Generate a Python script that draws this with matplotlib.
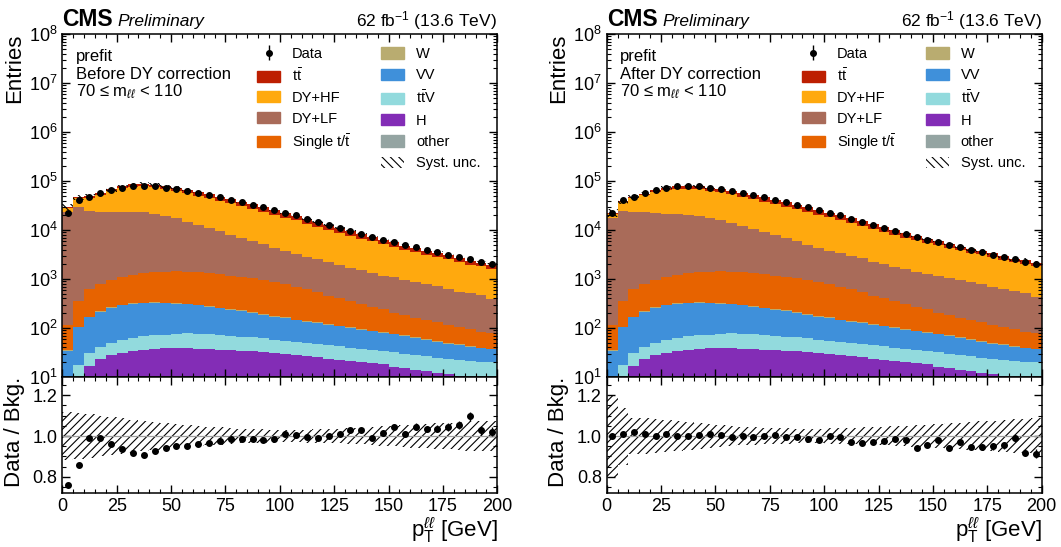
import numpy as np
import matplotlib
matplotlib.use("Agg")
import matplotlib.pyplot as plt
from matplotlib.patches import Patch
from matplotlib.ticker import MultipleLocator, LogLocator, FormatStrFormatter, NullFormatter

plt.rcParams['font.family'] = ['Liberation Sans', 'DejaVu Sans']
plt.rcParams['mathtext.fontset'] = 'custom'
plt.rcParams['mathtext.rm'] = 'Liberation Sans'
plt.rcParams['mathtext.it'] = 'Liberation Sans:italic'
plt.rcParams['mathtext.bf'] = 'Liberation Sans:bold'
plt.rcParams['hatch.linewidth'] = 0.8

# 40 bins of 5 GeV in pT(ll)
edges = np.linspace(0, 200, 41)

data = [22600, 40300, 47900, 56000, 64500, 73100, 77900, 79000, 77900, 73100,
        69800, 63500, 57800, 52200, 46800, 41900, 37000, 32900, 28800, 25200,
        22400, 19800, 16800, 14550, 12650, 11070, 9690, 8410, 7190, 6350,
        5820, 4860, 4430, 3870, 3550, 3160, 2770, 2520, 2220, 1980]

ttbar = [1190, 2340, 2900, 3960, 5380, 7010, 8500, 9560, 10110, 10110,
         10290, 10020, 9600, 9190, 8620, 7640, 7140, 6330, 5880, 5120,
         4440, 3930, 3380, 2940, 2530, 2190, 1790, 1550, 1380, 1130,
         1000, 870, 720, 640, 580, 520, 420, 370, 350, 310]

dyhf_before = [4840, 15060, 21080, 28990, 38580, 47620, 52790, 54410, 52890, 48340,
               45880, 41910, 37680, 33920, 29900, 26760, 23560, 21080, 18430, 16100,
               14050, 12440, 10680, 9170, 7930, 6830, 5990, 5120, 4560, 3960,
               3480, 2970, 2650, 2320, 2140, 1890, 1660, 1420, 1340, 1240]
dylf_before = [23550, 29100, 23790, 22890, 22330, 22180, 22450, 21640, 19850, 17910,
               15870, 13430, 11370, 9600, 8140, 6880, 5790, 4890, 4130, 3480,
               2950, 2600, 2240, 2070, 1730, 1530, 1300, 1200, 1060, 930,
               880, 790, 710, 630, 580, 510, 450, 415, 390, 315]

dyhf_after = [3630, 12680, 20430, 28320, 36840, 43950, 47830, 48750, 47920, 44520,
              42990, 39600, 35980, 32600, 29030, 26120, 23160, 20870, 18300, 16210,
              14230, 12660, 10990, 9480, 8230, 7140, 6310, 5450, 4870, 4260,
              3770, 3250, 2900, 2590, 2400, 2125, 1880, 1610, 1540, 1420]
dylf_after = [17670, 24500, 23050, 22360, 21330, 20470, 20340, 19380, 17980, 16500,
              14870, 12690, 10860, 9230, 7900, 6715, 5690, 4840, 4100, 3500,
              2990, 2650, 2300, 2135, 1795, 1600, 1365, 1270, 1130, 1000,
              950, 860, 775, 705, 645, 575, 510, 470, 445, 360]

single_t = [80, 255, 444, 556, 699, 815, 899, 974, 1033, 1081,
            1112, 1097, 1067, 1047, 984, 923, 886, 819, 760, 707,
            615, 539, 475, 404, 338, 291, 253, 213, 179, 158,
            127, 113, 98, 86, 76, 65, 56, 51, 44.5, 39.5]
w_jets = [1, 3, 6, 8, 10, 11, 12, 12, 12, 12, 12, 11, 11, 10, 9, 9, 8, 8, 7, 6,
          6, 5, 5, 5, 4, 4, 4, 3, 3, 3, 3, 2, 2, 2, 2, 2, 2, 1, 1, 1]
vv = [26.5, 85.4, 134, 173, 210, 233, 251, 251, 252, 246,
      232, 226, 215, 194, 180, 167, 156, 141, 126, 112,
      103, 90, 85, 78, 70, 66, 58.8, 55.3, 49.9, 45.7,
      42.5, 38.8, 34.5, 31.4, 27.8, 24.9, 23.1, 20.7, 18.3, 17.1]
ttv = [2, 9.6, 14.1, 18.6, 22.7, 25.9, 28.1, 31.5, 33, 34.6,
       37.8, 39.5, 37.5, 37.1, 35.9, 34.3, 31.5, 30.5, 29.2, 26.4,
       25.6, 24.9, 23.4, 22.7, 21.3, 20, 18.5, 17.3, 16.6, 15.8,
       15.4, 14.9, 14, 13.1, 12.6, 11.5, 11.4, 11.4, 11.2, 10.5]
higgs = [2, 3, 11.8, 19, 23.5, 27, 30.5, 32.1, 33.9, 34.5,
         34.8, 34.3, 33.9, 33.2, 32.1, 31.5, 30.5, 30, 28.4, 27.4,
         25.5, 23.7, 22.8, 21.2, 19.7, 18.2, 17.2, 15.9, 15, 14.1,
         12.3, 10, 9.1, 8.3, 7.2, 5.5, 4.5, 2.5, 1, 0.5]
other = [4, 5, 5, 4, 4, 4, 4, 4, 4, 4, 4, 4, 4, 4, 4, 4, 4, 4, 4, 4,
         4, 4, 4, 4, 4, 4, 4, 4, 4, 4, 4, 5, 5, 5, 5, 6, 6, 7, 8, 9]

ratio_before = [0.761, 0.860, 0.990, 0.989, 0.959, 0.938, 0.917, 0.909, 0.925, 0.940,
                0.950, 0.951, 0.963, 0.966, 0.977, 0.987, 0.984, 0.987, 0.980, 0.985,
                1.008, 1.007, 0.993, 0.989, 1.000, 1.011, 1.028, 1.029, 0.990, 1.015,
                1.046, 1.010, 1.046, 1.034, 1.036, 1.044, 1.055, 1.096, 1.028, 1.021]
ratio_after = [1.000, 1.010, 1.020, 1.010, 1.000, 1.008, 1.000, 1.000, 1.006, 1.008,
               1.003, 0.997, 1.000, 0.997, 1.000, 1.006, 0.997, 0.995, 0.985, 0.980,
               0.998, 0.993, 0.972, 0.964, 0.972, 0.977, 0.987, 0.980, 0.940, 0.958,
               0.982, 0.940, 0.972, 0.948, 0.946, 0.950, 0.954, 0.989, 0.919, 0.914]

unc_before = [0.120, 0.115, 0.108, 0.100, 0.093, 0.087, 0.081, 0.076, 0.070, 0.065,
              0.060, 0.055, 0.050, 0.046, 0.042, 0.039, 0.036, 0.034, 0.033, 0.032,
              0.031, 0.031, 0.032, 0.033, 0.034, 0.036, 0.038, 0.041, 0.044, 0.047,
              0.050, 0.053, 0.057, 0.060, 0.063, 0.066, 0.069, 0.072, 0.074, 0.076]
unc_after = [0.200, 0.140, 0.090, 0.088, 0.085, 0.080, 0.075, 0.070, 0.065, 0.060,
             0.055, 0.050, 0.046, 0.043, 0.040, 0.038, 0.037, 0.036, 0.036, 0.036,
             0.037, 0.038, 0.040, 0.042, 0.044, 0.046, 0.048, 0.050, 0.053, 0.056,
             0.060, 0.063, 0.066, 0.070, 0.073, 0.076, 0.079, 0.082, 0.085, 0.087]

colors = {'tt': '#bd1f01', 'dyhf': '#ffa90e', 'dylf': '#a96b59', 'st': '#e76300',
          'w': '#b9ac70', 'vv': '#3f90da', 'ttv': '#92dadd', 'h': '#832db6',
          'other': '#94a4a2'}

fig = plt.figure(figsize=(10.61, 5.47), dpi=100)
centers = 0.5 * (edges[1:] + edges[:-1])


def draw_panel(x0, dyhf, dylf, ratio, unc, caption):
    ax = fig.add_axes([x0, 0.3108, 0.41, 0.627])
    rax = fig.add_axes([x0, 0.0987, 0.41, 0.2121], sharex=ax)

    layers = [(other, 'other'), (higgs, 'h'), (ttv, 'ttv'), (vv, 'vv'),
              (w_jets, 'w'), (single_t, 'st'), (dylf, 'dylf'), (dyhf, 'dyhf'),
              (ttbar, 'tt')]
    bottom = np.full(len(centers), 1e-2)
    for vals, key in layers:
        top = bottom + np.asarray(vals, float)
        ax.stairs(top, edges, baseline=bottom, fill=True, color=colors[key], lw=0)
        bottom = top
    total = bottom
    u = np.asarray(unc)
    ax.stairs(total * (1 + u), edges, baseline=total * (1 - u), fill=True,
              facecolor='none', edgecolor='k', hatch='\\\\\\\\', lw=0)
    d = np.asarray(data, float)
    eb = ax.errorbar(centers, d, yerr=np.sqrt(d), fmt='o', color='k', ms=4,
                     elinewidth=1, capsize=0)

    ax.set_yscale('log')
    ax.set_ylim(10, 1e8)
    ax.set_xlim(0, 200)
    ax.yaxis.set_major_locator(LogLocator(base=10, numticks=20))
    ax.yaxis.set_minor_locator(LogLocator(base=10, subs=np.arange(2, 10), numticks=20))
    ax.yaxis.set_minor_formatter(NullFormatter())

    # legends
    h_syst = Patch(facecolor='none', edgecolor='k', hatch='\\\\\\\\', lw=0)
    col1 = [eb] + [Patch(color=colors[k]) for k in ['tt', 'dyhf', 'dylf', 'st']]
    lab1 = ['Data', r't$\bar{\mathrm{t}}$', 'DY+HF', 'DY+LF', r'Single t/$\bar{\mathrm{t}}$']
    col2 = [Patch(color=colors[k]) for k in ['w', 'vv', 'ttv', 'h', 'other']] + [h_syst]
    lab2 = ['W', 'VV', r't$\bar{\mathrm{t}}$V', 'H', 'other', 'Syst. unc.']
    kw = dict(fontsize=10.5, frameon=False, handlelength=1.6, handleheight=0.8,
              handletextpad=0.8, borderpad=0, borderaxespad=0, loc='upper left')
    leg1 = ax.legend(col1, lab1, bbox_to_anchor=(0.448, 0.962), labelspacing=0.45, **kw)
    ax.add_artist(leg1)
    ax.legend(col2, lab2, bbox_to_anchor=(0.733, 0.962), labelspacing=0.5, **kw)

    ax.text(0.0315, 0.9213, 'prefit', transform=ax.transAxes, fontsize=12, va='baseline')
    ax.text(0.0315, 0.8688, caption, transform=ax.transAxes, fontsize=12, va='baseline')
    ax.text(0.0315, 0.8172, r'70 ≤ m$_{\ell\ell}$ < 110', transform=ax.transAxes,
            fontsize=12, va='baseline')

    ax.text(0.0, 1.023, 'CMS', transform=ax.transAxes, fontsize=16.5,
            fontweight='bold', va='baseline', ha='left')
    ax.text(0.128, 1.023, 'Preliminary', transform=ax.transAxes, fontsize=12.5,
            style='italic', va='baseline', ha='left')
    ax.text(1.0, 1.023, r'62 fb$^{-1}$ (13.6 TeV)', transform=ax.transAxes,
            fontsize=12.5, va='baseline', ha='right')

    ax.set_ylabel('Entries', fontsize=16, loc='top')
    ax.yaxis.set_label_coords(-0.086, 1.0)

    # ratio panel
    rax.stairs(1 + u, edges, baseline=1 - u, fill=True, facecolor='none',
               edgecolor='k', hatch='////', lw=0)
    rax.axhline(1.0, color='#a0a0a0', lw=0.9)
    r = np.asarray(ratio)
    rax.errorbar(centers, r, yerr=r / np.sqrt(d), fmt='o', color='k', ms=4,
                 elinewidth=1, capsize=0)
    rax.set_ylim(0.72, 1.29)
    rax.yaxis.set_major_locator(MultipleLocator(0.2))
    rax.yaxis.set_minor_locator(MultipleLocator(0.05))
    rax.yaxis.set_major_formatter(FormatStrFormatter('%.1f'))
    rax.xaxis.set_major_locator(MultipleLocator(25))
    rax.xaxis.set_minor_locator(MultipleLocator(5))
    rax.set_ylabel('Data / Bkg.', fontsize=16, loc='top')
    rax.yaxis.set_label_coords(-0.086, 1.0)
    rax.set_xlabel(r'$\mathrm{p}_{\mathrm{T}}^{\ell\ell}$ [GeV]', fontsize=16,
                   loc='right', labelpad=0)

    for a in (ax, rax):
        a.tick_params(which='both', direction='in', top=True, right=True, labelsize=13)
        a.tick_params(which='major', length=5.5, width=1)
        a.tick_params(which='minor', length=2.8, width=0.8)
        for s in a.spines.values():
            s.set_linewidth(1.1)
    ax.tick_params(labelbottom=False)


draw_panel(0.0587, dyhf_before, dylf_before, ratio_before, unc_before,
           'Before DY correction')
draw_panel(0.5718, dyhf_after, dylf_after, ratio_after, unc_after,
           'After DY correction')

fig.savefig('out.png', dpi=100)
